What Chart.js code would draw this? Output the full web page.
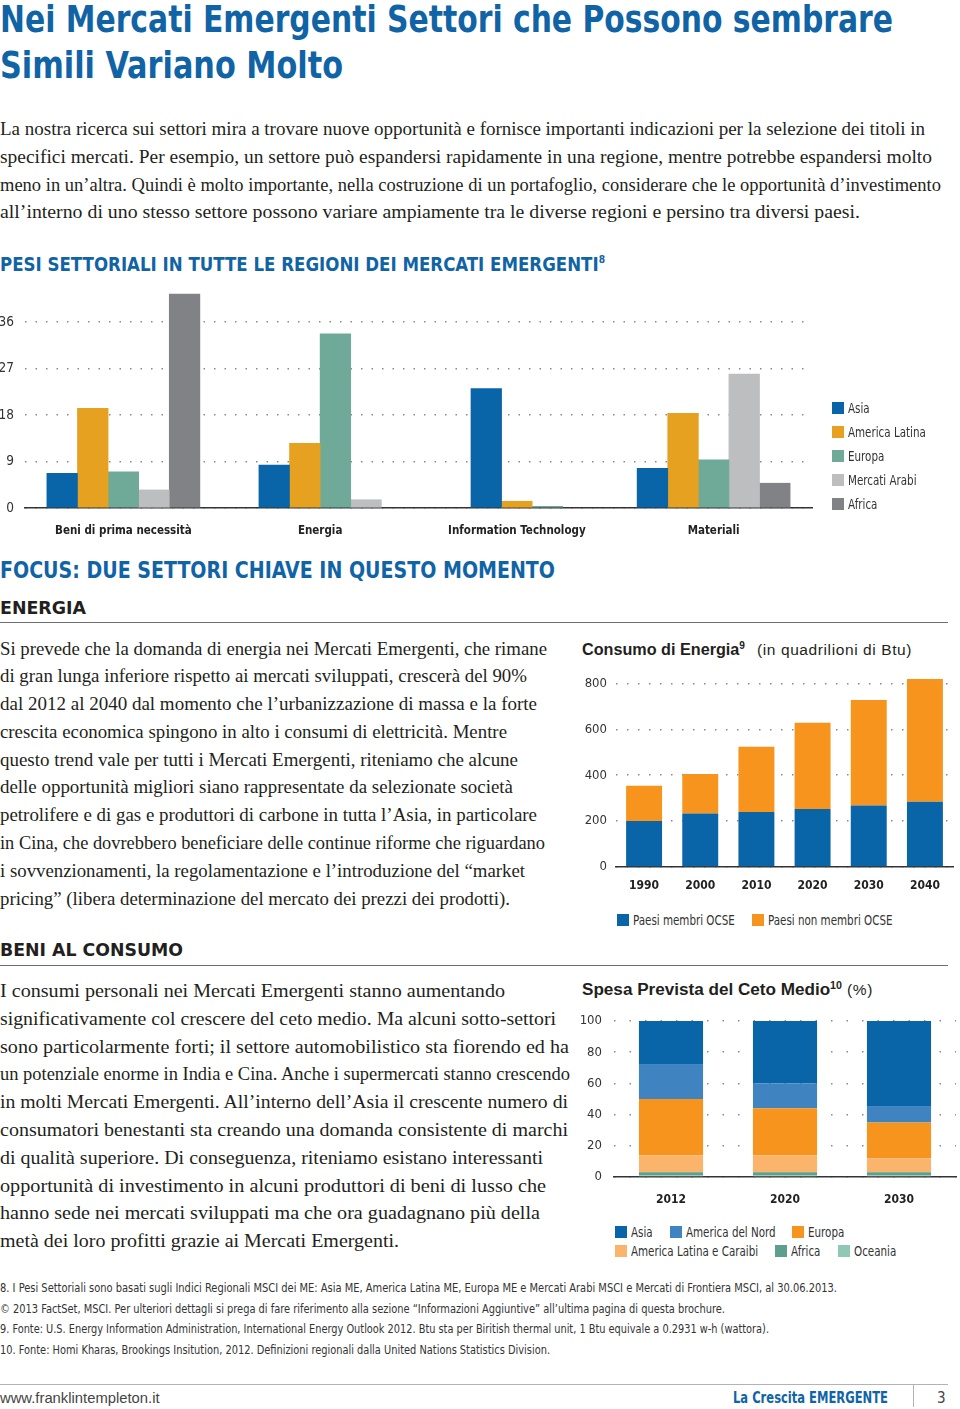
<!DOCTYPE html>
<html lang="it">
<head>
<meta charset="utf-8">
<title>La Crescita EMERGENTE</title>
<script src="https://cdn.jsdelivr.net/npm/chart.js@4.4.1/dist/chart.umd.min.js"></script>
<style>
  html, body { margin: 0; padding: 0; background: #fff; }
  body { width: 960px; height: 1409px; position: relative; overflow: hidden; color: #231f20; }
  .abs { position: absolute; white-space: nowrap; }
  .narrow { font-family: "Liberation Sans Narrow", "Arial Narrow", "DejaVu Sans Condensed", sans-serif; }
  .title { left: 0; font-size: 38px; line-height: 46px; font-weight: bold; color: #1064a6; }
  .serif { font-family: "Liberation Serif", "DejaVu Serif", serif; line-height: 27.8px; }
  .ln { width: max-content; white-space: nowrap; transform-origin: left center; }
  [data-fit] { transform-origin: left center; }
  .blue-h { color: #1064a6; font-weight: bold; }
  .dark-h { font-weight: bold; color: #231f20; font-size: 18px; line-height: 24px; }
  .rule { position: absolute; left: 0; width: 948px; height: 0; border-top: 1.5px solid #6d6e71; }
  .ctitle { font-family: "Liberation Sans", Arial, sans-serif; font-size: 16px; line-height: 24px; color: #231f20; }
  .ctitle sup { font-size: 10px; vertical-align: 6px; line-height: 0; }
  .ctitle .unit { font-size: 15.5px; letter-spacing: 0.6px; }
  .chart { position: absolute; }
  .legend { position: absolute; display: flex; flex-wrap: wrap; font-size: 14px; color: #333; }
  .lg-item { display: flex; align-items: center; white-space: nowrap; }
  .sw { display: inline-block; width: 12px; height: 12px; margin-right: 4px; flex: none; }
  .lt { display: inline-block; transform: scaleX(0.82); transform-origin: left center; }
  .foot { left: 0; top: 1278px; font-size: 12px; line-height: 20.7px; color: #333; }
</style>
</head>
<body>

<div class="abs title narrow" style="top:-4px;" data-fit="893">Nei Mercati Emergenti Settori che Possono sembrare</div>
<div class="abs title narrow" style="top:42px;" data-fit="343">Simili Variano Molto</div>

<div class="abs serif" style="left:0; top:116px; font-size:18.5px;">
  <div class="ln" data-fit="925">La nostra ricerca sui settori mira a trovare nuove opportunità e fornisce importanti indicazioni per la selezione dei titoli in</div>
  <div class="ln" data-fit="932">specifici mercati. Per esempio, un settore può espandersi rapidamente in una regione, mentre potrebbe espandersi molto</div>
  <div class="ln" data-fit="941">meno in un’altra. Quindi è molto importante, nella costruzione di un portafoglio, considerare che le opportunità d’investimento</div>
  <div class="ln" data-fit="860">all’interno di uno stesso settore possono variare ampiamente tra le diverse regioni e persino tra diversi paesi.</div>
</div>

<div class="abs narrow blue-h" style="left:0; top:251px; font-size:20px; line-height:26px;" data-fit="605">PESI SETTORIALI IN TUTTE LE REGIONI DEI MERCATI EMERGENTI<sup style="font-size:11px; vertical-align:8px; line-height:0;">8</sup></div>

<div class="chart" style="left:0; top:285px; width:960px; height:260px;"><canvas id="settori"></canvas></div>
<div class="legend narrow" id="legendSettori" style="left:832px; top:396px; width:125px; flex-direction:column;"></div>

<div class="abs narrow blue-h" style="left:0; top:556px; font-size:23px; line-height:28px;" data-fit="555">FOCUS: DUE SETTORI CHIAVE IN QUESTO MOMENTO</div>

<div class="abs narrow dark-h" style="left:0; top:596px;" data-fit="86">ENERGIA</div>
<div class="rule" style="top:622px;"></div>

<div class="abs serif" style="left:0; top:634.5px; font-size:18.8px;">
  <div class="ln" data-fit="547">Si prevede che la domanda di energia nei Mercati Emergenti, che rimane</div>
  <div class="ln" data-fit="527">di gran lunga inferiore rispetto ai mercati sviluppati, crescerà del 90%</div>
  <div class="ln" data-fit="537">dal 2012 al 2040 dal momento che l’urbanizzazione di massa e la forte</div>
  <div class="ln" data-fit="507">crescita economica spingono in alto i consumi di elettricità. Mentre</div>
  <div class="ln" data-fit="518">questo trend vale per tutti i Mercati Emergenti, riteniamo che alcune</div>
  <div class="ln" data-fit="513">delle opportunità migliori siano rappresentate da selezionate società</div>
  <div class="ln" data-fit="537">petrolifere e di gas e produttori di carbone in tutta l’Asia, in particolare</div>
  <div class="ln" data-fit="545">in Cina, che dovrebbero beneficiare delle continue riforme che riguardano</div>
  <div class="ln" data-fit="525">i sovvenzionamenti, la regolamentazione e l’introduzione del “market</div>
  <div class="ln" data-fit="510">pricing” (libera determinazione del mercato dei prezzi dei prodotti).</div>
</div>

<div class="abs ctitle" style="left:582px; top:638px;"><b data-fit="163" style="display:inline-block;">Consumo di Energia<sup>9</sup></b></div>
<div class="abs ctitle" style="left:757px; top:638px;"><span class="unit">(in quadrilioni di Btu)</span></div>
<div class="chart" style="left:575px; top:665px; width:385px; height:235px;"><canvas id="energia"></canvas></div>
<div class="legend narrow" id="legendEnergia" style="left:617px; top:910px; width:340px;"></div>

<div class="abs narrow dark-h" style="left:0; top:938px;" data-fit="183">BENI AL CONSUMO</div>
<div class="rule" style="top:965px;"></div>

<div class="abs serif" style="left:0; top:977px; font-size:18.8px;">
  <div class="ln" data-fit="505">I consumi personali nei Mercati Emergenti stanno aumentando</div>
  <div class="ln" data-fit="556">significativamente col crescere del ceto medio. Ma alcuni sotto-settori</div>
  <div class="ln" data-fit="569">sono particolarmente forti; il settore automobilistico sta fiorendo ed ha</div>
  <div class="ln" data-fit="570">un potenziale enorme in India e Cina. Anche i supermercati stanno crescendo</div>
  <div class="ln" data-fit="568">in molti Mercati Emergenti. All’interno dell’Asia il crescente numero di</div>
  <div class="ln" data-fit="568">consumatori benestanti sta creando una domanda consistente di marchi</div>
  <div class="ln" data-fit="543">di qualità superiore. Di conseguenza, riteniamo esistano interessanti</div>
  <div class="ln" data-fit="546">opportunità di investimento in alcuni produttori di beni di lusso che</div>
  <div class="ln" data-fit="540">hanno sede nei mercati sviluppati ma che ora guadagnano più della</div>
  <div class="ln" data-fit="399">metà dei loro profitti grazie ai Mercati Emergenti.</div>
</div>

<div class="abs ctitle" style="left:582px; top:978px;"><b data-fit="260" style="display:inline-block;">Spesa Prevista del Ceto Medio<sup>10</sup></b></div>
<div class="abs ctitle" style="left:847px; top:978px;"><span class="unit">(%)</span></div>
<div class="chart" style="left:575px; top:1005px; width:385px; height:207px;"><canvas id="cetoMedio"></canvas></div>
<div class="legend narrow" id="legendCeto" style="left:615px; top:1222px; width:340px;"></div>

<div class="abs narrow foot">
  <div class="ln" data-fit="837">8. I Pesi Settoriali sono basati sugli Indici Regionali MSCI dei ME: Asia ME, America Latina ME, Europa ME e Mercati Arabi MSCI e Mercati di Frontiera MSCI, al 30.06.2013.</div>
  <div class="ln" data-fit="725">© 2013 FactSet, MSCI. Per ulteriori dettagli si prega di fare riferimento alla sezione “Informazioni Aggiuntive” all’ultima pagina di questa brochure.</div>
  <div class="ln" data-fit="769">9. Fonte: U.S. Energy Information Administration, International Energy Outlook 2012. Btu sta per Biritish thermal unit, 1 Btu equivale a 0.2931 w-h (wattora).</div>
  <div class="ln" data-fit="550">10. Fonte: Homi Kharas, Brookings Insitution, 2012. Definizioni regionali dalla United Nations Statistics Division.</div>
</div>

<div class="abs" style="left:0; top:1384px; width:948px; border-top:1px solid #b1b3b6;"></div>
<div class="abs" style="left:0; top:1388px; font-family:'Liberation Sans', Arial, sans-serif; font-size:14.8px; line-height:20px; color:#444;">www.franklintempleton.it</div>
<div class="abs narrow" style="left:733px; top:1388px; font-size:15px; line-height:20px; font-weight:bold; color:#1064a6;" data-fit="155">La Crescita EMERGENTE</div>
<div class="abs" style="left:913px; top:1385px; height:22px; border-left:1px solid #b1b3b6;"></div>
<div class="abs narrow" style="left:937px; top:1388px; font-size:15px; line-height:20px; color:#444;">3</div>

<script>
const NARROW = '"Liberation Sans Narrow", "Arial Narrow", "DejaVu Sans Condensed", sans-serif';

// Pesi settoriali (%)
const sectorLabels = ["Beni di prima necessità", "Energia", "Information Technology", "Materiali"];
const regionNames = ["Asia", "America Latina", "Europa", "Mercati Arabi", "Africa"];
const regionColors = ["#0a64a8", "#e5a11f", "#6faa99", "#bdbec0", "#808285"];
const asiaW = [6.7, 8.3, 23.1, 7.7];
const amLatW = [19.3, 12.5, 1.3, 18.3];
const europaW = [7.0, 33.7, 0.3, 9.3];
const arabiW = [3.5, 1.6, null, 25.9];
const africaW = [41.4, null, null, 4.8];
const sectorTicks = [0, 9, 18, 27, 36];

// Consumo di energia (quadrilioni di Btu)
const energyYears = ["1990", "2000", "2010", "2020", "2030", "2040"];
const ocse = [200, 233, 240, 253, 268, 284];
const nonOcse = [154, 172, 284, 376, 460, 536];
const energyNames = ["Paesi membri OCSE", "Paesi non membri OCSE"];
const energyColors = ["#0a64a8", "#f7941d"];
const energyTicks = [0, 200, 400, 600, 800];

// Spesa del ceto medio (%)
const cetoYears = ["2012", "2020", "2030"];
const cetoNames = ["Asia", "America del Nord", "Europa", "America Latina e Caraibi", "Africa", "Oceania"];
const cetoColors = ["#0a64a8", "#3f84c0", "#f7941d", "#fab46c", "#5d9f8c", "#8fc8b4"];
const asiaC = [28, 40, 55];
const nordAmC = [22, 16, 10];
const europaC = [36, 30, 23];
const latAmC = [11, 11, 9];
const africaC = [2, 2, 2];
const oceaniaC = [1, 1, 1];
const cetoTicks = [0, 20, 40, 60, 80, 100];

function buildLegend(id, names, colors, rowHeight, widths) {
    const el = document.getElementById(id);
    names.forEach((n, i) => {
        const item = document.createElement('div');
        item.className = 'lg-item';
        item.style.height = rowHeight + 'px';
        if (widths) item.style.width = widths[i] + 'px';
        item.innerHTML = `<span class="sw" style="background:${colors[i]}"></span><span class="lt">${n}</span>`;
        el.appendChild(item);
    });
}

buildLegend('legendSettori', regionNames, regionColors, 24);
buildLegend('legendEnergia', energyNames, energyColors, 20, [135, 190]);
buildLegend('legendCeto', cetoNames, cetoColors, 19, [55, 122, 160, 160, 63, 90]);

// adatta la larghezza dei testi a quella dell'originale
document.querySelectorAll('[data-fit]').forEach(el => {
    const w = el.getBoundingClientRect().width;
    el.style.transform = `scaleX(${el.dataset.fit / w})`;
});

function fixedY(width) {
    return s => { s.width = width; s.paddingTop = 0; s.paddingBottom = 0; };
}
function fixedX(height) {
    return s => { s.height = height; s.paddingLeft = 0; s.paddingRight = 0; };
}
function dotted(dash) {
    return { display: false, dash: dash };
}

// Pesi settoriali
const sectorSeries = [asiaW, amLatW, europaW, arabiW, africaW];
new Chart(document.getElementById('settori'), {
    type: 'bar',
    data: {
        labels: sectorLabels,
        datasets: sectorSeries.map((d, i) => ({
            label: regionNames[i],
            data: d,
            backgroundColor: regionColors[i]
        }))
    },
    options: {
        responsive: true,
        maintainAspectRatio: false,
        animation: false,
        layout: { padding: { top: 6, right: 148, left: 0, bottom: 0 } },
        datasets: { bar: { skipNull: true, barThickness: 30.6 } },
        plugins: { legend: { display: false }, tooltip: { enabled: false } },
        scales: {
            x: {
                grid: { display: false },
                border: { display: true, color: '#333', width: 1.5 },
                ticks: { color: '#222', font: { family: NARROW, size: 11.5, weight: 'bold' }, padding: 8, maxRotation: 0, autoSkip: false },
                afterFit: fixedX(37)
            },
            y: {
                min: 0,
                max: 42,
                afterBuildTicks: s => { s.ticks = sectorTicks.map(v => ({ value: v })); },
                grid: { color: '#8a8a8a', lineWidth: 1.5, drawTicks: false },
                border: dotted([1.5, 9]),
                ticks: { color: '#333', font: { family: NARROW, size: 13.5 }, padding: 11 },
                afterFit: fixedY(25)
            }
        }
    }
});

// Consumo di energia
new Chart(document.getElementById('energia'), {
    type: 'bar',
    data: {
        labels: energyYears,
        datasets: [ocse, nonOcse].map((d, i) => ({
            label: energyNames[i],
            data: d,
            backgroundColor: energyColors[i],
            barPercentage: 0.64,
            categoryPercentage: 1
        }))
    },
    options: {
        responsive: true,
        maintainAspectRatio: false,
        animation: false,
        layout: { padding: { top: 7, right: 7, left: 0, bottom: 0 } },
        plugins: { legend: { display: false }, tooltip: { enabled: false } },
        scales: {
            x: {
                stacked: true,
                grid: { display: false },
                border: { display: true, color: '#333', width: 1.5 },
                ticks: { color: '#222', font: { family: NARROW, size: 12, weight: 'bold' }, padding: 4, maxRotation: 0 },
                afterFit: fixedX(33)
            },
            y: {
                stacked: true,
                min: 0,
                max: 850,
                afterBuildTicks: s => { s.ticks = energyTicks.map(v => ({ value: v })); },
                grid: { color: '#8a8a8a', lineWidth: 1.5, drawTicks: false },
                border: dotted([1.5, 9.5]),
                ticks: { color: '#333', font: { family: NARROW, size: 13 }, padding: 9 },
                afterFit: fixedY(41)
            }
        }
    }
});

// Spesa del ceto medio (stack dal basso: Oceania ... Asia)
const cetoSeries = [asiaC, nordAmC, europaC, latAmC, africaC, oceaniaC];
new Chart(document.getElementById('cetoMedio'), {
    type: 'bar',
    data: {
        labels: cetoYears,
        datasets: cetoSeries.map((d, i) => ({
            label: cetoNames[i],
            data: d,
            backgroundColor: cetoColors[i],
            barPercentage: 0.5625,
            categoryPercentage: 1
        })).reverse()
    },
    options: {
        responsive: true,
        maintainAspectRatio: false,
        animation: false,
        layout: { padding: { top: 16, right: 4, left: 0, bottom: 0 } },
        plugins: { legend: { display: false }, tooltip: { enabled: false } },
        scales: {
            x: {
                stacked: true,
                grid: { display: false },
                border: { display: true, color: '#333', width: 1.5 },
                ticks: { color: '#222', font: { family: NARROW, size: 12, weight: 'bold' }, padding: 8, maxRotation: 0 },
                afterFit: fixedX(35)
            },
            y: {
                stacked: true,
                min: 0,
                max: 100,
                afterBuildTicks: s => { s.ticks = cetoTicks.map(v => ({ value: v })); },
                grid: { color: '#8a8a8a', lineWidth: 1.5, drawTicks: false },
                border: dotted([1.5, 14]),
                ticks: { color: '#333', font: { family: NARROW, size: 13 }, padding: 12 },
                afterFit: fixedY(39)
            }
        }
    }
});
</script>
</body>
</html>
